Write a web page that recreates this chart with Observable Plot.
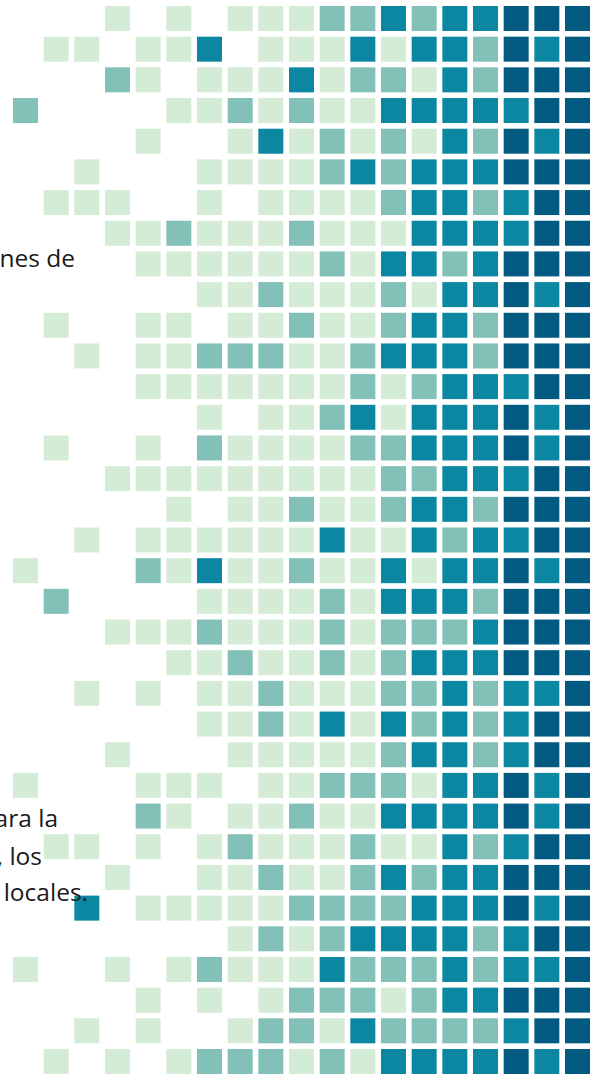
<!DOCTYPE html>
<html><head><meta charset="utf-8">
<script src="https://cdn.jsdelivr.net/npm/d3@7"></script>
<script src="https://cdn.jsdelivr.net/npm/@observablehq/plot@0.6"></script>
<style>
html,body{margin:0;padding:0;background:#fff;overflow:hidden}
#wrap{position:relative;width:596px;height:1080px}
#notes{position:absolute;left:0;top:0;pointer-events:none;overflow:visible}
#notes text{font-family:"Open Sans",sans-serif;font-size:24.5px;fill:#1b1b1b}
</style></head><body><div id="wrap"></div>
<script>
// grid categories
const columns = d3.range(19);
const rows = d3.range(35);
// value levels and their colours
const levels = [1, 2, 3, 4];
const levelColors = ["#d4ebd6", "#82c0b8", "#0b87a2", "#035a80"];
// one array per row, one value per column (0 = no square)
const grid = [
  [0,0,0,1,0,1,0,1,1,1,2,2,3,2,3,3,4,4,4],
  [0,1,1,0,1,1,3,0,1,1,1,3,1,3,3,2,4,3,4],
  [0,0,0,2,1,0,1,1,1,3,1,2,2,1,3,2,4,4,4],
  [2,0,0,0,0,1,1,2,1,2,1,1,3,3,3,3,3,4,4],
  [0,0,0,0,1,0,0,1,3,1,2,1,2,1,3,2,4,3,4],
  [0,0,1,0,0,0,1,1,1,1,2,3,2,3,3,3,4,4,4],
  [0,1,1,1,0,0,1,0,1,1,1,1,2,3,3,2,3,4,4],
  [0,0,0,1,1,2,1,1,1,2,1,1,1,3,3,3,3,4,4],
  [0,0,0,0,1,1,1,1,1,1,2,1,3,3,2,3,4,4,4],
  [0,0,0,0,0,0,1,1,2,1,1,1,2,1,3,3,4,3,4],
  [0,1,0,0,1,1,0,1,1,2,1,1,2,3,3,2,4,4,4],
  [0,0,1,0,1,1,2,2,2,1,1,2,3,3,3,2,4,4,4],
  [0,0,0,0,1,1,1,1,1,1,1,2,1,2,3,3,3,4,4],
  [0,0,0,0,0,0,1,0,1,1,2,3,1,3,3,3,4,3,4],
  [0,1,0,0,1,0,2,1,1,1,1,2,2,3,3,3,4,3,4],
  [0,0,0,1,1,1,1,1,1,1,1,1,2,2,3,3,3,4,4],
  [0,0,0,0,0,1,0,1,1,2,1,1,2,3,3,2,4,4,4],
  [0,0,1,0,1,1,1,1,1,1,3,1,1,3,2,3,3,4,4],
  [1,0,0,0,2,1,3,1,1,2,1,1,3,1,3,3,4,3,4],
  [0,2,0,0,0,0,1,1,1,1,2,1,3,3,3,2,4,4,4],
  [0,0,0,1,1,1,2,1,1,1,2,1,2,2,2,3,4,4,4],
  [0,0,0,0,0,1,1,2,1,1,2,1,2,3,3,3,4,4,4],
  [0,0,1,0,1,0,1,1,2,1,1,1,2,2,3,2,3,3,4],
  [0,0,0,0,0,0,1,1,2,1,3,1,3,2,3,2,3,4,4],
  [0,0,0,1,0,0,0,1,1,1,1,1,2,3,3,2,3,4,4],
  [1,0,0,0,1,1,1,0,1,1,2,2,2,1,3,3,4,3,4],
  [0,0,0,0,2,1,0,1,1,2,1,1,3,3,3,3,4,3,4],
  [0,1,1,0,1,0,1,2,1,1,1,2,1,1,3,2,3,4,4],
  [0,0,0,1,0,0,1,1,2,1,1,2,3,2,3,3,4,4,4],
  [0,0,3,0,1,1,1,1,1,2,2,2,2,3,3,3,4,3,4],
  [0,0,0,0,0,0,0,1,2,1,2,3,3,3,3,2,3,4,4],
  [1,0,0,1,0,1,2,1,1,1,3,2,2,2,3,2,3,3,4],
  [0,0,0,0,1,0,1,0,1,2,2,2,1,2,3,3,4,4,4],
  [0,0,1,0,1,0,0,1,2,2,1,3,2,2,2,2,3,4,4],
  [0,1,0,1,0,1,2,2,2,1,2,1,3,3,3,3,4,3,4]
];
// visible fragments of the surrounding paragraph text
const noteFragments = ["nes de", "ara la", ", los", "locales."];

const cells = grid.flatMap((vals, r) => vals.map((v, c) => ({row: rows[r], col: columns[c], level: v})))
  .filter(d => d.level > 0);

const chart = Plot.plot({
  width: 596,
  height: 1080,
  marginLeft: 13, marginRight: 6, marginTop: 6, marginBottom: 6,
  x: {type: "band", domain: columns, paddingInner: 0.185, paddingOuter: 0, axis: null, round: false},
  y: {type: "band", domain: rows, paddingInner: 0.185, paddingOuter: 0, axis: null, round: false},
  color: {type: "ordinal", domain: levels, range: levelColors},
  style: {background: "#fff"},
  marks: [
    Plot.cell(cells, {x: "col", y: "row", fill: "level", inset: 0})
  ]
});
const wrap = document.getElementById("wrap");
wrap.appendChild(chart);

// overlay text (layout positions, right end and baseline)
const noteLayout = [[75, 267], [58, 827], [42, 865], [88, 901]];
const overlay = d3.select(wrap).append("svg").attr("id", "notes")
  .attr("width", 596).attr("height", 1080);
overlay.selectAll("text").data(noteFragments).join("text")
  .attr("x", (d, i) => noteLayout[i][0])
  .attr("y", (d, i) => noteLayout[i][1])
  .attr("text-anchor", "end")
  .text(d => d);
</script>
</body></html>
